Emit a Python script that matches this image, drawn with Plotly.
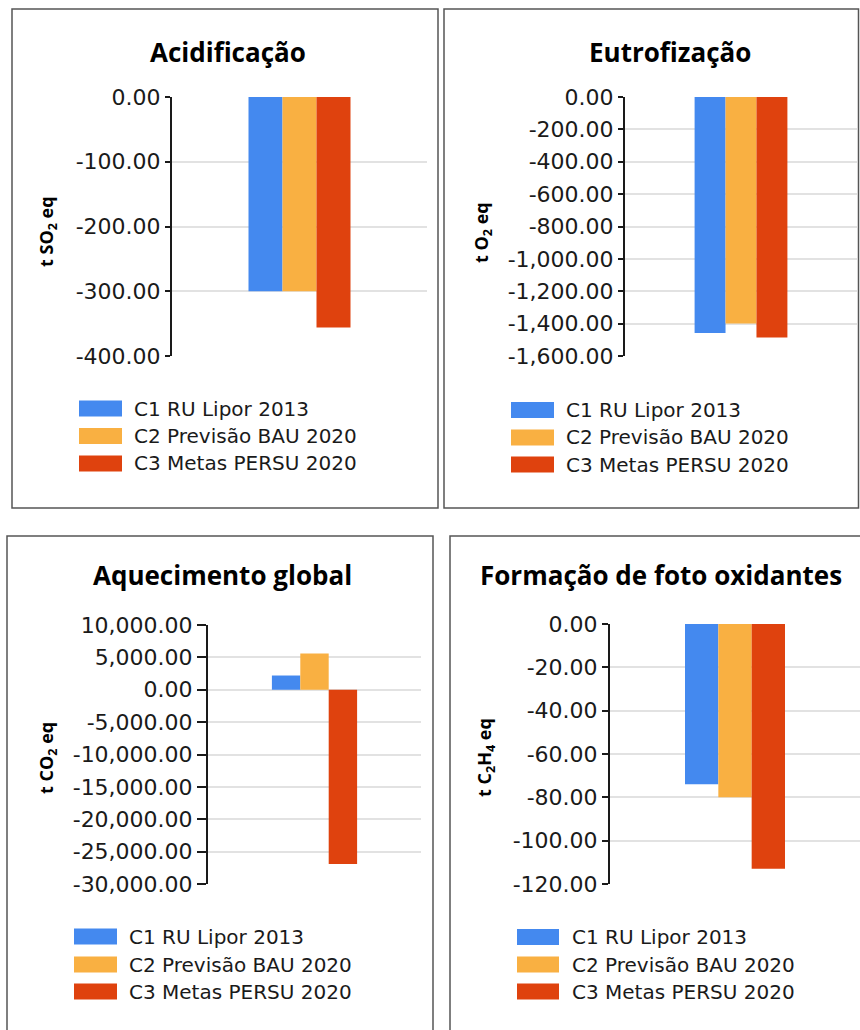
import plotly.graph_objects as go

# ---------------- data ----------------
series_names = ["C1 RU Lipor 2013", "C2 Previsão BAU 2020", "C3 Metas PERSU 2020"]
series_colors = ["#4489EF", "#F9B042", "#DF420E"]

titles = ["Acidificação", "Eutrofização", "Aquecimento global", "Formação de foto oxidantes"]
units = ["t SO<sub>2</sub> eq", "t O<sub>2</sub> eq", "t CO<sub>2</sub> eq", "t C<sub>2</sub>H<sub>4</sub> eq"]

acidificacao = [-300, -300, -356]
eutrofizacao = [-1458, -1400, -1485]
aquecimento_global = [2200, 5600, -26900]
foto_oxidantes = [-74, -80, -113]

ticks_acid = [0, -100, -200, -300, -400]
labels_acid = ["0.00", "-100.00", "-200.00", "-300.00", "-400.00"]
ticks_eutro = [0, -200, -400, -600, -800, -1000, -1200, -1400, -1600]
labels_eutro = ["0.00", "-200.00", "-400.00", "-600.00", "-800.00", "-1,000.00",
                "-1,200.00", "-1,400.00", "-1,600.00"]
ticks_aquec = [10000, 5000, 0, -5000, -10000, -15000, -20000, -25000, -30000]
labels_aquec = ["10,000.00", "5,000.00", "0.00", "-5,000.00", "-10,000.00",
                "-15,000.00", "-20,000.00", "-25,000.00", "-30,000.00"]
ticks_foto = [0, -20, -40, -60, -80, -100, -120]
labels_foto = ["0.00", "-20.00", "-40.00", "-60.00", "-80.00", "-100.00", "-120.00"]

panel_values = [acidificacao, eutrofizacao, aquecimento_global, foto_oxidantes]
panel_ticks = [ticks_acid, ticks_eutro, ticks_aquec, ticks_foto]
panel_labels = [labels_acid, labels_eutro, labels_aquec, labels_foto]

# ---------------- layout geometry (pixels) ----------------
W, H = 860, 1030
# plot area: x0, x1, ytop, ybottom
plot_px = [(172, 427, 97, 356), (625, 857, 97, 356), (208, 421, 625, 884), (610, 860, 624, 884)]
ticklens = [5, 5, 9, 6]
border_px = [(12, 438, 9, 508), (444, 858.5, 9, 508), (7, 433, 536, 1045), (450, 875, 536, 1045)]
title_px = [(228, 52), (670, 52), (222, 575), (661, 575)]
unit_px = [(47, 232), (482, 233), (47, 758), (485, 758)]
legend_px = [(79, 122, 132, [408.5, 436, 463.5]),
             (511, 554, 564, [410, 437.5, 464.5]),
             (74, 117, 127, [936.5, 964.5, 991.5]),
             (517, 559, 570, [937, 964.5, 991.5])]


def px(x):
    return x / W


def py(y):
    return 1 - y / H


fig = go.Figure()
layout = dict(
    width=W, height=H, margin=dict(l=0, r=0, t=0, b=0, pad=0, autoexpand=False),
    paper_bgcolor="white", plot_bgcolor="white",
    barmode="group", bargap=0.6, bargroupgap=0,
    showlegend=False,
)
shapes = []
annotations = []

for i in range(4):
    xa = "x" if i == 0 else f"x{i+1}"
    ya = "y" if i == 0 else f"y{i+1}"
    xkey = "xaxis" if i == 0 else f"xaxis{i+1}"
    ykey = "yaxis" if i == 0 else f"yaxis{i+1}"
    x0, x1, yt, yb = plot_px[i]
    ticks = panel_ticks[i]
    for name, color, val in zip(series_names, series_colors, panel_values[i]):
        fig.add_trace(go.Bar(x=[0], y=[val], name=name, marker=dict(color=color, line=dict(width=0)),
                             xaxis=xa, yaxis=ya, showlegend=False))
    layout[xkey] = dict(domain=[px(x0), px(x1)], range=[-0.5, 0.5], anchor=ya,
                        showticklabels=False, showgrid=False, zeroline=False, showline=False,
                        ticks="", fixedrange=True, automargin=False)
    layout[ykey] = dict(domain=[py(yb), py(yt)], range=[min(ticks), max(ticks)], anchor=xa,
                        tickmode="array", tickvals=ticks, ticktext=panel_labels[i],
                        showgrid=True, gridcolor="#e2e2e2", gridwidth=2,
                        showline=True, linecolor="#1a1a1a", linewidth=2,
                        ticks="outside", ticklen=ticklens[i], tickwidth=2, tickcolor="#1a1a1a",
                        tickfont=dict(family="DejaVu Sans", size=22, color="#1a1a1a"),
                        zeroline=False, fixedrange=True, automargin=False)

    bx0, bx1, by0, by1 = border_px[i]
    shapes.append(dict(type="rect", xref="paper", yref="paper",
                       x0=px(bx0), x1=px(bx1), y0=py(by1), y1=py(by0),
                       line=dict(color="#555555", width=1.5), fillcolor="rgba(0,0,0,0)",
                       layer="below"))

    tx, ty = title_px[i]
    annotations.append(dict(text=f"<b>{titles[i]}</b>", xref="paper", yref="paper",
                            x=px(tx), y=py(ty), xanchor="center", yanchor="middle",
                            showarrow=False,
                            font=dict(family="Open Sans", size=26, color="#000000")))
    ux, uy = unit_px[i]
    annotations.append(dict(text=f"<b>{units[i]}</b>", xref="paper", yref="paper",
                            x=px(ux), y=py(uy), xanchor="center", yanchor="middle",
                            textangle=-90, showarrow=False,
                            font=dict(family="Open Sans", size=18, color="#000000")))

    sx0, sx1, txl, rows = legend_px[i]
    for name, color, cy in zip(series_names, series_colors, rows):
        shapes.append(dict(type="rect", xref="paper", yref="paper",
                           x0=px(sx0), x1=px(sx1), y0=py(cy + 8), y1=py(cy - 8),
                           line=dict(width=0), fillcolor=color))
        annotations.append(dict(text=name, xref="paper", yref="paper",
                                x=px(txl), y=py(cy), xanchor="left", yanchor="middle",
                                showarrow=False,
                                font=dict(family="DejaVu Sans", size=20, color="#1a1a1a")))

layout["shapes"] = shapes
layout["annotations"] = annotations
fig.update_layout(**layout)
fig.write_html("out.html", config={"displayModeBar": False})
